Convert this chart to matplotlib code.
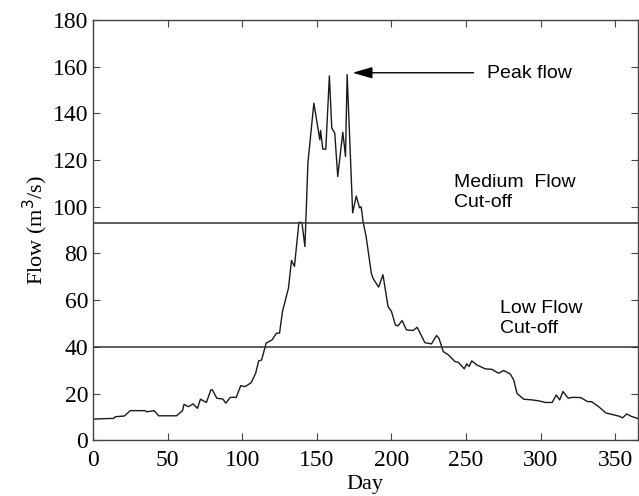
import matplotlib
matplotlib.use('Agg')
import matplotlib.pyplot as plt

# daily flow hydrograph
day = [0, 14, 15, 21, 25, 35, 36, 41, 44, 56, 60, 61, 64, 67, 70, 72, 76, 79, 80, 83,
       87, 89, 92, 96, 99, 102, 106, 109, 111, 113, 116, 120, 123, 125, 127, 129, 131, 133,
       135, 138, 140, 142, 143, 144, 148, 152, 152.5, 154, 156, 158.4, 160, 162, 164, 167.4,
       169.2, 170.3, 174, 176.4, 178.6, 179.7, 181, 183, 186.5, 187.6, 191.4, 194.3, 197.7,
       200, 202.6, 204.4, 207.1, 210, 214.5, 217.2, 222.4, 226.8, 230.2, 231.8, 234.7,
       238.1, 242.6, 244.8, 248.8, 250.4, 252, 253.8, 257.2, 262.8, 267.3, 271.8, 275.1,
       279.6, 281.9, 284.1, 288.6, 294.2, 298.7, 303.2, 307.7, 310.4, 312.7, 314.9, 318.5,
       321.2, 326.8, 331.3, 334.2, 339.2, 343.7, 348.2, 352.7, 354.9, 357.6, 360.5, 363.9, 365]
flow = [9.1, 9.4, 10.1, 10.4, 12.7, 12.7, 12.2, 12.7, 10.5, 10.5, 12.7, 15.4, 14.4, 15.6, 13.7,
        17.6, 16.2, 21.6, 21.6, 18.0, 17.7, 15.9, 18.4, 18.4, 23.4, 23.0, 24.7, 28.7, 34.0,
        34.4, 41.6, 43.0, 45.9, 45.9, 55.2, 60.2, 65.2, 77.0, 74.5, 93.3, 93.3, 83.0, 100.2,
        118.7, 144.4, 128.7, 132.7, 124.7, 124.7, 156.1, 133.7, 131.6, 113.0, 131.9, 121.6,
        156.6, 97.4, 104.6, 99.6, 100.0, 93.5, 87.3, 71.6, 69.4, 65.6, 70.9, 57.3, 55.2, 49.4,
        49.0, 51.3, 47.3, 47.0, 48.4, 41.8, 41.3, 44.9, 43.7, 38.0, 36.6, 33.7, 33.4, 30.6,
        32.7, 31.6, 34.0, 32.3, 30.6, 30.4, 28.7, 29.9, 28.4, 25.9, 20.1, 17.6, 17.3, 16.9,
        16.2, 16.2, 19.4, 17.3, 20.9, 18.0, 18.4, 18.3, 16.6, 16.5, 14.2, 11.7, 11.0, 10.3,
        9.6, 11.3, 10.3, 9.6, 9.3]

medium_cutoff = 93
low_cutoff = 40

fig = plt.figure(figsize=(6.39, 4.96), dpi=100)
ax = fig.add_axes([0.1455, 0.1123, 0.8525, 0.8474])

ax.plot(day, flow, color='#1a1a1a', lw=1.0)
ax.axhline(medium_cutoff, color='#333333', lw=1.1)
ax.axhline(low_cutoff, color='#333333', lw=1.1)

ax.set_xlim(0, 365)
ax.set_ylim(0, 180)
ax.set_xticks(range(0, 351, 50))
ax.set_yticks(range(0, 181, 20))
ax.tick_params(direction='in', top=True, right=True, length=5, color='#444444',
               labelsize=17)
ax.tick_params(axis='x', pad=7)
for lab in ax.get_xticklabels() + ax.get_yticklabels():
    lab.set_family('Liberation Serif')
for s in ax.spines.values():
    s.set_color('#444444')
    s.set_linewidth(1.0)

ax.set_xlabel('Day', family='Liberation Serif', fontsize=16, labelpad=3)
ax.set_ylabel('Flow (m$^3$/s)', family='Liberation Serif', fontsize=16, labelpad=2)

ax.annotate('', xy=(174, 157.4), xytext=(255, 157.4),
            arrowprops=dict(arrowstyle='-|>,head_length=1.2,head_width=0.35',
                            color='black', lw=1.0, shrinkA=0, shrinkB=0))
ax.text(264, 157, 'Peak flow', family='Liberation Sans', fontsize=14, va='center')
ax.text(242, 114, 'Medium  Flow\nCut-off', family='Liberation Sans', fontsize=14, va='top',
        linespacing=1.25)
ax.text(273, 60, 'Low Flow\nCut-off', family='Liberation Sans', fontsize=14, va='top',
        linespacing=1.25)

fig.savefig('out.png', dpi=100)
